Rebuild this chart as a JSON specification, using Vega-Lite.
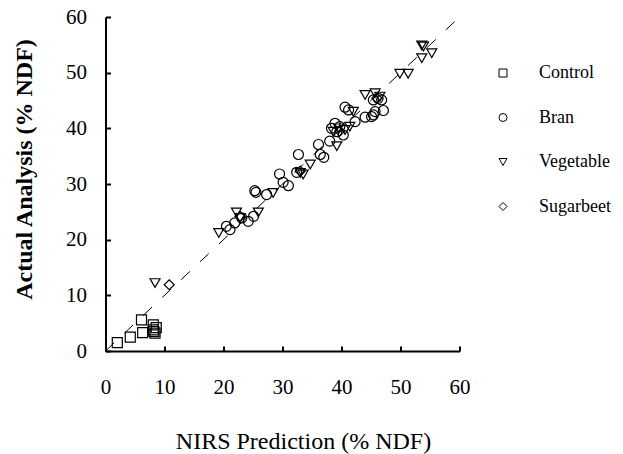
{
  "$schema": "https://vega.github.io/schema/vega-lite/v6.json",
  "width": 354,
  "height": 334,
  "autosize": {"type": "none"},
  "padding": {"left": 105.5, "top": 17, "right": 163.5, "bottom": 103},
  "background": "white",
  "config": {"view": {"stroke": null}, "font": "Liberation Serif"},
  "datasets": {
    "line": [{"nirs": 0, "actual": 0, "nirs2": 60, "actual2": 60}],
    "points": [
      {"group": "Control", "nirs": 2.0, "actual": 1.5},
      {"group": "Control", "nirs": 4.2, "actual": 2.5},
      {"group": "Control", "nirs": 6.3, "actual": 3.3},
      {"group": "Control", "nirs": 6.1, "actual": 5.6},
      {"group": "Control", "nirs": 8.1, "actual": 3.8},
      {"group": "Control", "nirs": 8.1, "actual": 4.7},
      {"group": "Control", "nirs": 8.4, "actual": 3.2},
      {"group": "Control", "nirs": 8.2, "actual": 3.5},
      {"group": "Control", "nirs": 8.6, "actual": 4.2},
      {"group": "Bran", "nirs": 21.1, "actual": 21.8},
      {"group": "Bran", "nirs": 20.5, "actual": 22.4},
      {"group": "Bran", "nirs": 21.9, "actual": 23.0},
      {"group": "Bran", "nirs": 23.1, "actual": 23.9},
      {"group": "Bran", "nirs": 24.2, "actual": 23.3},
      {"group": "Bran", "nirs": 25.1, "actual": 24.2},
      {"group": "Bran", "nirs": 25.3, "actual": 28.8},
      {"group": "Bran", "nirs": 25.5, "actual": 28.5},
      {"group": "Bran", "nirs": 27.3, "actual": 28.1},
      {"group": "Bran", "nirs": 29.5, "actual": 31.8},
      {"group": "Bran", "nirs": 30.1, "actual": 30.3},
      {"group": "Bran", "nirs": 31.0, "actual": 29.7},
      {"group": "Bran", "nirs": 32.7, "actual": 35.3},
      {"group": "Bran", "nirs": 32.4, "actual": 32.1},
      {"group": "Bran", "nirs": 36.1, "actual": 37.1},
      {"group": "Bran", "nirs": 36.4, "actual": 35.3},
      {"group": "Bran", "nirs": 37.0, "actual": 34.8},
      {"group": "Bran", "nirs": 38.0, "actual": 37.7},
      {"group": "Bran", "nirs": 38.3, "actual": 40.0},
      {"group": "Bran", "nirs": 38.9, "actual": 40.9},
      {"group": "Bran", "nirs": 39.2, "actual": 39.4},
      {"group": "Bran", "nirs": 39.7, "actual": 40.3},
      {"group": "Bran", "nirs": 40.6, "actual": 43.8},
      {"group": "Bran", "nirs": 41.2, "actual": 43.3},
      {"group": "Bran", "nirs": 40.3, "actual": 38.8},
      {"group": "Bran", "nirs": 42.3, "actual": 41.2},
      {"group": "Bran", "nirs": 44.0, "actual": 42.0},
      {"group": "Bran", "nirs": 45.4, "actual": 42.4},
      {"group": "Bran", "nirs": 45.4, "actual": 45.1},
      {"group": "Bran", "nirs": 46.2, "actual": 45.4},
      {"group": "Bran", "nirs": 46.8, "actual": 45.1},
      {"group": "Bran", "nirs": 47.1, "actual": 43.2},
      {"group": "Bran", "nirs": 45.7, "actual": 43.0},
      {"group": "Bran", "nirs": 45.1, "actual": 42.1},
      {"group": "Vegetable", "nirs": 8.4, "actual": 12.2},
      {"group": "Vegetable", "nirs": 19.2, "actual": 21.2},
      {"group": "Vegetable", "nirs": 22.2, "actual": 24.9},
      {"group": "Vegetable", "nirs": 22.8, "actual": 23.9},
      {"group": "Vegetable", "nirs": 25.9, "actual": 24.9},
      {"group": "Vegetable", "nirs": 28.4, "actual": 28.4},
      {"group": "Vegetable", "nirs": 33.0, "actual": 32.0},
      {"group": "Vegetable", "nirs": 33.5, "actual": 31.7},
      {"group": "Vegetable", "nirs": 34.7, "actual": 33.5},
      {"group": "Vegetable", "nirs": 39.2, "actual": 36.8},
      {"group": "Vegetable", "nirs": 38.6, "actual": 39.4},
      {"group": "Vegetable", "nirs": 39.5, "actual": 40.0},
      {"group": "Vegetable", "nirs": 40.6, "actual": 39.7},
      {"group": "Vegetable", "nirs": 41.4, "actual": 40.3},
      {"group": "Vegetable", "nirs": 42.0, "actual": 43.0},
      {"group": "Vegetable", "nirs": 44.0, "actual": 46.0},
      {"group": "Vegetable", "nirs": 45.7, "actual": 46.3},
      {"group": "Vegetable", "nirs": 46.5, "actual": 45.7},
      {"group": "Vegetable", "nirs": 49.9, "actual": 49.8},
      {"group": "Vegetable", "nirs": 51.3, "actual": 49.8},
      {"group": "Vegetable", "nirs": 53.6, "actual": 52.6},
      {"group": "Vegetable", "nirs": 53.9, "actual": 54.7},
      {"group": "Vegetable", "nirs": 55.3, "actual": 53.5},
      {"group": "Vegetable", "nirs": 53.6, "actual": 54.9},
      {"group": "Sugarbeet", "nirs": 10.8, "actual": 11.9},
      {"group": "Sugarbeet", "nirs": 22.8, "actual": 24.2},
      {"group": "Sugarbeet", "nirs": 33.0, "actual": 32.3},
      {"group": "Sugarbeet", "nirs": 39.7, "actual": 39.5},
      {"group": "Sugarbeet", "nirs": 46.0, "actual": 45.4}
    ]
  },
  "encoding": {
    "x": {
      "field": "nirs",
      "type": "quantitative",
      "scale": {"domain": [0, 60], "nice": false, "zero": false},
      "axis": {
        "title": "NIRS Prediction (% NDF)",
        "values": [0, 10, 20, 30, 40, 50, 60],
        "grid": false,
        "domainColor": "black",
        "domainWidth": 2,
        "ticks": true,
        "tickColor": "black",
        "tickOpacity": 1,
        "tickWidth": 2,
        "tickSize": -5,
        "labelFont": "Liberation Serif",
        "labelFontSize": 21,
        "labelColor": "black",
        "labelPadding": 30,
        "labelFlush": false,
        "titleFont": "Liberation Serif",
        "titleFontSize": 24,
        "titleFontWeight": "normal",
        "titleColor": "black",
        "titleX": 197.5,
        "titleY": 97,
        "titleAlign": "center",
        "titleBaseline": "alphabetic"
      }
    },
    "y": {
      "field": "actual",
      "type": "quantitative",
      "scale": {"domain": [0, 60], "nice": false, "zero": false},
      "axis": {
        "title": "Actual Analysis (% NDF)",
        "values": [0, 10, 20, 30, 40, 50, 60],
        "grid": false,
        "domainColor": "black",
        "domainWidth": 2,
        "ticks": true,
        "tickColor": "black",
        "tickOpacity": 1,
        "tickWidth": 2,
        "tickSize": -5,
        "labelFont": "Liberation Serif",
        "labelFontSize": 21,
        "labelColor": "black",
        "labelPadding": 24,
        "labelFlush": false,
        "titleFont": "Liberation Serif",
        "titleFontSize": 24,
        "titleFontWeight": "bold",
        "titleColor": "black",
        "titleAngle": -90,
        "titleX": -74,
        "titleY": 152,
        "titleAlign": "center",
        "titleBaseline": "alphabetic"
      }
    }
  },
  "layer": [
    {
      "data": {"name": "line"},
      "mark": {"type": "rule", "color": "black", "strokeWidth": 1, "strokeDash": [12, 14]},
      "encoding": {
        "x2": {"field": "nirs2"},
        "y2": {"field": "actual2"}
      }
    },
    {
      "data": {"name": "points"},
      "mark": {"type": "point", "filled": false, "color": "black", "strokeWidth": 1.2, "opacity": 1, "size": 100},
      "encoding": {
        "shape": {
          "field": "group",
          "type": "nominal",
          "scale": {
            "domain": ["Control", "Bran", "Vegetable", "Sugarbeet"],
            "range": ["square", "circle", "triangle-down", "diamond"]
          },
          "legend": {
            "title": null,
            "orient": "none",
            "legendX": 388.5,
            "legendY": 47,
            "padding": 0,
            "symbolSize": 64,
            "symbolStrokeWidth": 1,
            "symbolStrokeColor": "black",
            "labelFont": "Liberation Serif",
            "labelFontSize": 18,
            "labelColor": "black",
            "labelOffset": 27,
            "rowPadding": 26.5
          }
        }
      }
    }
  ]
}
